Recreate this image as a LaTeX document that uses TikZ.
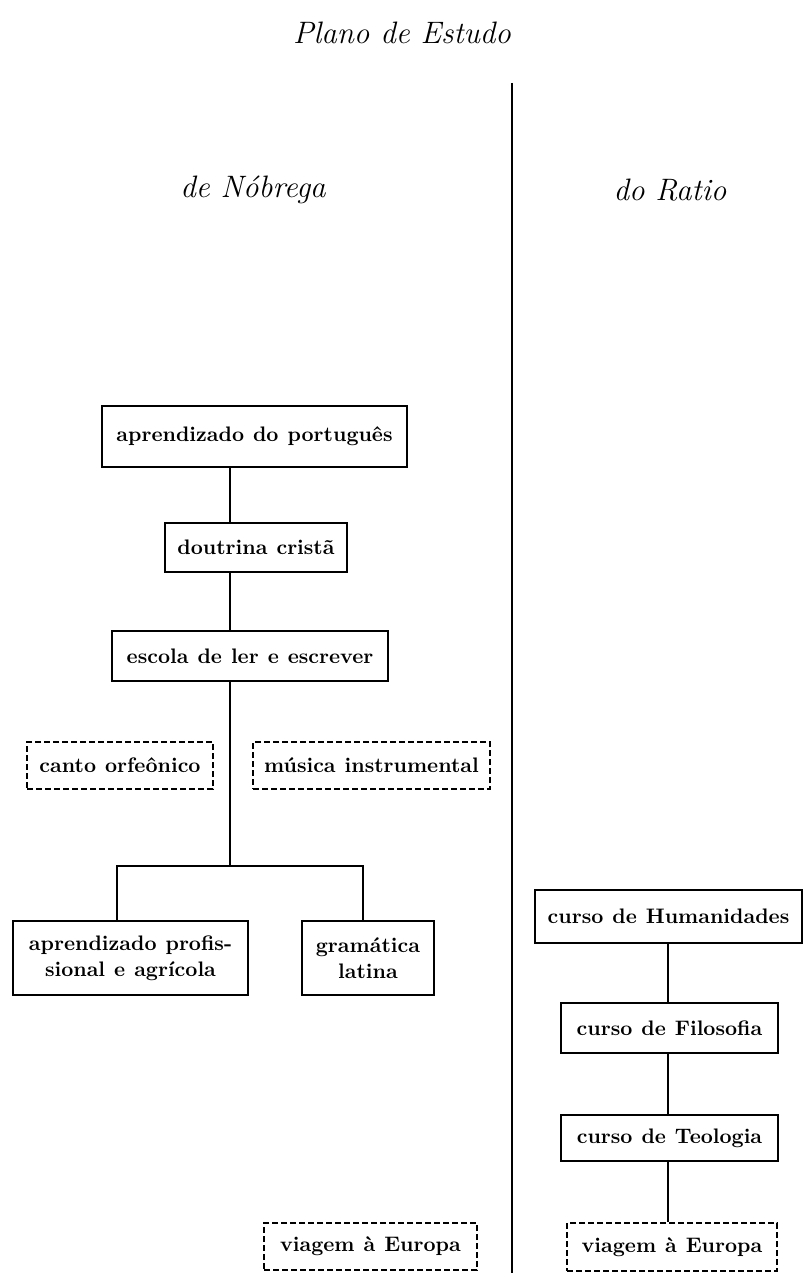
\documentclass[tikz,border=0pt]{standalone}
\usepackage{fontspec}
\usepackage{tikz}

\newcommand{\boxfont}{\fontsize{10.5}{13}\selectfont\bfseries\spaceskip=4.5pt plus 1pt minus 1pt\relax}
\newcommand{\headfont}{\fontsize{15.5}{18}\selectfont\itshape}

\begin{document}
\begin{tikzpicture}[x=0.5pt,y=-0.5pt,-]
    \tikzstyle{box}=[draw=black,line width=1.4pt,fill=white,inner sep=0pt,align=center,font=\boxfont]
    \tikzstyle{dbox}=[box,dash pattern=on 3pt off 1.5pt]
    \tikzstyle{link}=[line width=1.1pt]
    \tikzstyle{head}=[font=\headfont]
    \useasboundingbox (0,0) rectangle (804,1273);

    \node[head] (title)  at (402,33)  {Plano de Estudo};
    \node[head] (nob)    at (253,190) {de Nóbrega};
    \node[head] (ratio)  at (670,190) {do Ratio};

    \coordinate (sep-top) at (512,83);
    \coordinate (sep-bot) at (512,1273);
    \draw[line width=1.3pt] (sep-top) -- (sep-bot);

    % de Nobrega
    \node[box,minimum width=152.5pt,minimum height=30.5pt] (N-port) at (254.5,436.5) {aprendizado do português};
    \node[box,minimum width=91pt,minimum height=24.5pt] (N-dout) at (256,547.5) {doutrina cristã};
    \node[box,minimum width=138pt,minimum height=25pt] (N-esc) at (250,656) {escola de ler e escrever};
    \node[dbox,minimum width=93pt,minimum height=23.5pt] (N-canto) at (120,765.5) {canto orfeônico};
    \node[dbox,minimum width=118.5pt,minimum height=23.5pt] (N-mus) at (371.5,765.5) {música instrumental};
    \node[box,minimum width=117.5pt,minimum height=37pt] (N-prof) at (130.5,958) {aprendizado profis-\\sional e agrícola};
    \node[box,minimum width=66pt,minimum height=37pt] (N-gram) at (368,958) {gramática\\latina};
    \node[dbox,minimum width=106.5pt,minimum height=23.5pt] (N-viag) at (370.5,1246.5) {viagem à Europa};

    \coordinate (trunk) at (230,0);
    \coordinate (fork) at (230,866);
    \coordinate (fork-l) at (117,866);
    \coordinate (fork-r) at (363,866);
    \draw[link] (N-port.south -| trunk) -- (N-dout.north -| trunk);
    \draw[link] (N-dout.south -| trunk) -- (N-esc.north -| trunk);
    \draw[link] (N-esc.south -| trunk) -- (fork);
    \draw[link] (N-prof.north -| fork-l) -- (fork-l) -- (fork-r) -- (N-gram.north -| fork-r);

    % do Ratio
    \node[box,minimum width=133.5pt,minimum height=26.5pt] (R-1) at (668.5,916.5) {curso de Humanidades};
    \node[box,minimum width=108.5pt,minimum height=25pt] (R-2) at (669.5,1028) {curso de Filosofia};
    \node[box,minimum width=108.5pt,minimum height=23pt] (R-3) at (669.5,1138) {curso de Teologia};
    \node[dbox,minimum width=105pt,minimum height=24pt] (R-4) at (672,1247) {viagem à Europa};

    \coordinate (spine) at (668,0);
    \foreach \from/\to in {1/2,2/3,3/4}
        \draw[link] (R-\from.south -| spine) -- (R-\to.north -| spine);
\end{tikzpicture}
\end{document}
